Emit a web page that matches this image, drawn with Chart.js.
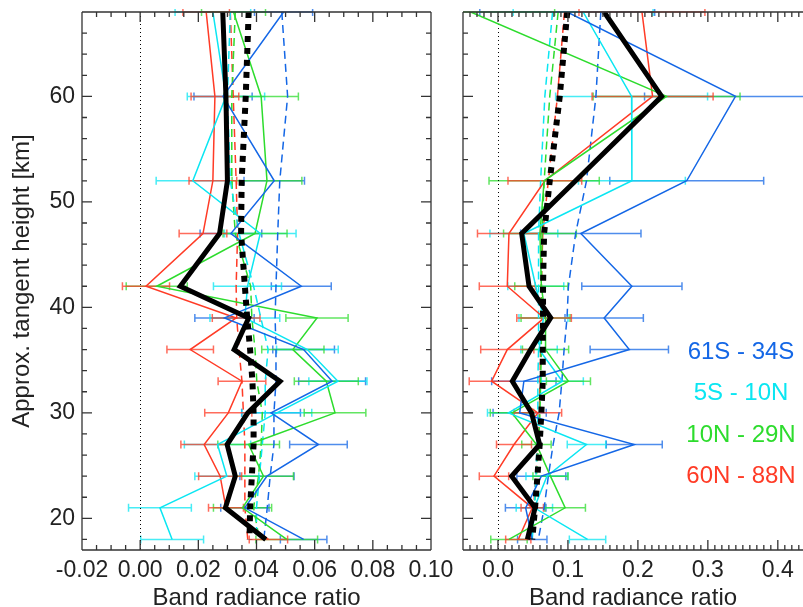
<!DOCTYPE html>
<html>
<head>
<meta charset="utf-8">
<script src="https://cdn.jsdelivr.net/npm/chart.js@4.4.0/dist/chart.umd.min.js"></script>
<style>
  html, body { margin: 0; padding: 0; background: #fff; overflow: hidden; }
  #wrap { position: relative; width: 803px; height: 607px; }
  #leftChart { position: absolute; left: 0; top: 0; }
  #rightChart { position: absolute; left: 447px; top: 0; }
</style>
</head>
<body>
<div id="wrap">
  <canvas id="leftChart" width="460" height="607"></canvas>
  <canvas id="rightChart" width="356" height="607"></canvas>
</div>
<script>
// tangent heights of the profile points (km)
const heights = [68, 60, 52, 47, 42, 39, 36, 33, 30, 27, 24, 21, 18];

// left panel
const leftBlue = [0.0493, 0.0285, 0.0461, 0.0312, 0.0554, 0.029, 0.0562, 0.066, 0.045, 0.0613, 0.0436, 0.036, 0.0562];
const leftBlueErr = [0.010, 0.010, 0.0104, 0.0106, 0.0103, 0.0102, 0.0106, 0.0115, 0.0101, 0.0099, 0.0093, 0.0083, 0.008];
const leftCyan = [0.025, 0.0295, 0.0181, 0.0413, 0.0369, 0.036, 0.0575, 0.068, 0.047, 0.0266, 0.0298, 0.0068, 0.011];
const leftCyanErr = [0.013, 0.0133, 0.0126, 0.0123, 0.0117, 0.012, 0.0106, 0.010, 0.012, 0.0114, 0.011, 0.0108, 0.0108];
const leftGreen = [0.0321, 0.0416, 0.0436, 0.0395, 0.0057, 0.0608, 0.0525, 0.064, 0.067, 0.0373, 0.0424, 0.0352, 0.0504];
const leftGreenErr = [0.011, 0.0128, 0.012, 0.011, 0.0105, 0.0107, 0.0107, 0.011, 0.0106, 0.0106, 0.0103, 0.010, 0.0106];
const leftRed = [0.0227, 0.0257, 0.025, 0.0216, 0.002, 0.033, 0.0172, 0.035, 0.0303, 0.022, 0.0275, 0.0295, 0.0441];
const leftRedErr = [0.008, 0.0082, 0.0082, 0.0082, 0.0081, 0.0082, 0.008, 0.0082, 0.0081, 0.008, 0.0074, 0.006, 0.0066];
const leftMean = [0.0284, 0.0295, 0.030, 0.0273, 0.0138, 0.0373, 0.0323, 0.0481, 0.037, 0.0299, 0.0327, 0.0293, 0.0432];
const leftBlueDash = [0.0487, 0.0507, 0.048, 0.0473, 0.0467, 0.0464, 0.0467, 0.0467, 0.046, 0.046, 0.0447, 0.0437, 0.0425];
const leftCyanDash = [0.031, 0.030, 0.031, 0.034, 0.039, 0.0415, 0.044, 0.043, 0.043, 0.042, 0.041, 0.040, 0.040];
const leftGreenDash = [0.0327, 0.0315, 0.0315, 0.0327, 0.038, 0.0384, 0.0395, 0.0401, 0.042, 0.0416, 0.0407, 0.039, 0.041];
const leftRedDash = [0.031, 0.032, 0.033, 0.0335, 0.033, 0.0332, 0.034, 0.035, 0.0355, 0.036, 0.036, 0.036, 0.037];
const leftMeanDash = [0.0373, 0.0363, 0.0349, 0.0347, 0.036, 0.0368, 0.0378, 0.0386, 0.039, 0.039, 0.0384, 0.0378, 0.0376];

// right panel
const rightBlue = [0.099, 0.3395, 0.2698, 0.1184, 0.1914, 0.1518, 0.1877, 0.037, 0.031, 0.1948, 0.062, 0.0396, 0.049];
const rightBlueErr = [0.125, 0.130, 0.110, 0.086, 0.0716, 0.056, 0.056, 0.046, 0.038, 0.040, 0.035, 0.029, 0.021];
const rightCyan = [0.1217, 0.191, 0.1914, 0.037, 0.054, 0.065, 0.0587, 0.092, 0.015, 0.1265, 0.07, 0.052, 0.128];
const rightCyanErr = [0.10, 0.1086, 0.0764, 0.0485, 0.040, 0.035, 0.026, 0.030, 0.030, 0.0275, 0.030, 0.026, 0.026];
const rightGreen = [-0.039, 0.241, 0.066, 0.060, 0.062, 0.068, 0.068, 0.1007, 0.020, 0.055, 0.075, 0.096, 0.0157];
const rightGreenErr = [0.12, 0.105, 0.0788, 0.052, 0.038, 0.035, 0.033, 0.0315, 0.031, 0.021, 0.025, 0.029, 0.026];
const rightRed = [0.2058, 0.221, 0.067, 0.0157, 0.0133, 0.0659, 0.0133, -0.0091, 0.057, 0.0229, -0.0057, 0.049, 0.029];
const rightRedErr = [0.09, 0.0865, 0.0527, 0.045, 0.040, 0.039, 0.038, 0.032, 0.034, 0.025, 0.021, 0.016, 0.018];
const rightMean = [0.1518, 0.234, 0.111, 0.0339, 0.0444, 0.0754, 0.0467, 0.0205, 0.048, 0.0596, 0.0195, 0.053, 0.042];
const rightBlueDash = [0.147, 0.140, 0.1265, 0.111, 0.1007, 0.0987, 0.0945, 0.0913, 0.0874, 0.0788, 0.072, 0.066, 0.0577];
const rightCyanDash = [0.078, 0.067, 0.061, 0.058, 0.058, 0.058, 0.058, 0.057, 0.057, 0.056, 0.054, 0.052, 0.049];
const rightGreenDash = [0.086, 0.074, 0.066, 0.063, 0.062, 0.062, 0.062, 0.061, 0.060, 0.058, 0.055, 0.052, 0.048];
const rightRedDash = [0.095, 0.085, 0.072, 0.064, 0.062, 0.062, 0.061, 0.060, 0.059, 0.057, 0.054, 0.051, 0.047];
const rightMeanDash = [0.099, 0.0883, 0.074, 0.0659, 0.0644, 0.0644, 0.064, 0.064, 0.062, 0.0596, 0.0564, 0.053, 0.049];

// axes
const leftXTicks = [-0.02, 0, 0.02, 0.04, 0.06, 0.08, 0.10];
const rightXTicks = [0, 0.1, 0.2, 0.3, 0.4];
const yTicks = [20, 30, 40, 50, 60];
const legendLabels = ["61S - 34S", "5S - 10N", "10N - 29N", "60N - 88N"];

const BLUE = "#1467e6";
const CYAN = "#0ae6f2";
const GREEN = "#2ddc2d";
const RED = "#ff3b26";
const FONT = "'Liberation Sans', Arial, sans-serif";
const TEXT = "#222";

Chart.defaults.font.family = FONT;
Chart.defaults.animation = false;

function profile(values, color, width, dash, order, errors) {
  return {
    data: values.map((v, i) => ({ x: v, y: heights[i] })),
    borderColor: color,
    borderWidth: width,
    borderDash: dash,
    showLine: true,
    pointRadius: 0,
    tension: 0,
    order: order,
    errors: errors || null,
  };
}

function minorValues(min, max, step) {
  const out = [];
  for (let i = Math.ceil(min / step - 1e-6); i * step <= max + 1e-9; i++) {
    out.push(i * step);
  }
  return out;
}

// horizontal error bars with caps
const errorBars = {
  id: "errorBars",
  beforeDatasetsDraw(chart) {
    const { ctx, chartArea: a, scales } = chart;
    ctx.save();
    ctx.beginPath();
    ctx.rect(a.left, a.top - 3, a.right - a.left, a.bottom - a.top + 6);
    ctx.clip();
    chart.data.datasets.forEach((ds) => {
      if (!ds.errors) return;
      ctx.strokeStyle = ds.borderColor;
      ctx.globalAlpha = 0.75;
      ctx.lineWidth = 1.5;
      ds.data.forEach((p, i) => {
        const e = ds.errors[i];
        const x0 = scales.x.getPixelForValue(p.x - e);
        const x1 = scales.x.getPixelForValue(p.x + e);
        const py = scales.y.getPixelForValue(p.y);
        ctx.beginPath();
        ctx.moveTo(x0, py);
        ctx.lineTo(x1, py);
        ctx.moveTo(x0, py - 4);
        ctx.lineTo(x0, py + 4);
        ctx.moveTo(x1, py - 4);
        ctx.lineTo(x1, py + 4);
        ctx.stroke();
      });
    });
    ctx.restore();
  },
};

// box, inward ticks and the dotted zero line
const axisFrame = {
  id: "axisFrame",
  beforeDatasetsDraw(chart) {
    const { ctx, chartArea: a, scales } = chart;
    const px = Math.round(scales.x.getPixelForValue(0)) + 0.5;
    ctx.save();
    ctx.strokeStyle = "#000";
    ctx.lineWidth = 1;
    ctx.setLineDash([1, 3]);
    ctx.beginPath();
    ctx.moveTo(px, a.top);
    ctx.lineTo(px, a.bottom);
    ctx.stroke();
    ctx.restore();
  },
  afterDraw(chart, args, opts) {
    const { ctx, chartArea: a, scales } = chart;
    const x = scales.x;
    const y = scales.y;
    ctx.save();
    ctx.strokeStyle = "#333";
    ctx.lineWidth = 1.3;
    ctx.beginPath();
    ctx.moveTo(a.left, a.top);
    ctx.lineTo(a.right, a.top);
    ctx.moveTo(a.left, a.bottom);
    ctx.lineTo(a.right, a.bottom);
    ctx.moveTo(a.left, a.top);
    ctx.lineTo(a.left, a.bottom);
    if (opts.rightBorder) {
      ctx.moveTo(a.right, a.top);
      ctx.lineTo(a.right, a.bottom);
    }
    const xTick = (v, len) => {
      const p = x.getPixelForValue(v);
      ctx.moveTo(p, a.bottom);
      ctx.lineTo(p, a.bottom - len);
      ctx.moveTo(p, a.top);
      ctx.lineTo(p, a.top + len);
    };
    const yTick = (v, len) => {
      const p = y.getPixelForValue(v);
      ctx.moveTo(a.left, p);
      ctx.lineTo(a.left + len, p);
      if (opts.rightBorder) {
        ctx.moveTo(a.right, p);
        ctx.lineTo(a.right - len, p);
      }
    };
    minorValues(x.min, x.max, opts.xMinor).forEach((v) => xTick(v, 5));
    opts.xMajor.forEach((v) => xTick(v, 10));
    minorValues(y.min, y.max, 2).forEach((v) => yTick(v, 5));
    yTicks.forEach((v) => yTick(v, 10));
    ctx.stroke();

    if (opts.legend) {
      ctx.font = "24px " + FONT;
      ctx.textAlign = "center";
      ctx.textBaseline = "middle";
      const colors = [BLUE, CYAN, GREEN, RED];
      const rows = [352, 393, 435, 476];
      legendLabels.forEach((t, i) => {
        ctx.fillStyle = colors[i];
        ctx.fillText(t, 294, rows[i]);
      });
    }
    ctx.restore();
  },
};

function buildDatasets(set) {
  return [
    profile(set.mean, "#000", 5, [], 0),
    profile(set.meanDash, "#000", 6, [6, 6], 1),
    profile(set.blue, BLUE, 1.5, [], 2, set.blueErr),
    profile(set.cyan, CYAN, 1.5, [], 2, set.cyanErr),
    profile(set.green, GREEN, 1.5, [], 2, set.greenErr),
    profile(set.red, RED, 1.5, [], 2, set.redErr),
    profile(set.blueDash, BLUE, 1.5, [8, 5], 3),
    profile(set.cyanDash, CYAN, 1.5, [8, 5], 3),
    profile(set.greenDash, GREEN, 1.5, [8, 5], 3),
    profile(set.redDash, RED, 1.5, [8, 5], 3),
  ];
}

function makeChart(canvasId, set, cfg) {
  const ctx = document.getElementById(canvasId).getContext("2d");
  return new Chart(ctx, {
    type: "scatter",
    data: { datasets: buildDatasets(set) },
    options: {
      responsive: false,
      events: [],
      layout: { padding: { top: 12, right: cfg.padRight, left: 0, bottom: 0 } },
      plugins: {
        legend: { display: false },
        tooltip: { enabled: false },
        axisFrame: {
          xMajor: cfg.xTicks,
          xMinor: cfg.xMinor,
          rightBorder: cfg.rightBorder,
          legend: cfg.legend,
        },
      },
      scales: {
        x: {
          type: "linear",
          min: cfg.xMin,
          max: cfg.xMax,
          afterBuildTicks: (s) => {
            s.ticks = cfg.xTicks.map((v) => ({ value: v }));
          },
          afterFit: (s) => {
            s.height = 57;
            s.paddingLeft = 0;
            s.paddingRight = 0;
          },
          grid: { display: false, drawTicks: false },
          border: { display: false },
          ticks: {
            autoSkip: false,
            maxRotation: 0,
            padding: 7,
            color: TEXT,
            font: { size: 23 },
            callback: (v) => Number(v).toFixed(cfg.digits),
          },
          title: {
            display: true,
            text: "Band radiance ratio",
            color: TEXT,
            font: { size: 24, lineHeight: 0.75 },
            padding: 0,
          },
        },
        y: {
          type: "linear",
          min: 17,
          max: 68,
          afterBuildTicks: (s) => {
            s.ticks = yTicks.map((v) => ({ value: v }));
          },
          afterFit: (s) => {
            s.width = cfg.yWidth;
            s.paddingTop = 0;
            s.paddingBottom = 0;
          },
          grid: { display: false, drawTicks: false },
          border: { display: false },
          ticks: {
            display: cfg.yLabels,
            padding: 7,
            color: TEXT,
            font: { size: 23 },
          },
          title: {
            display: cfg.yLabels,
            text: "Approx. tangent height [km]",
            color: TEXT,
            font: { size: 24, lineHeight: 0.75 },
            padding: { top: 13, bottom: 0 },
          },
        },
      },
    },
    plugins: [errorBars, axisFrame],
  });
}

makeChart(
  "leftChart",
  {
    mean: leftMean, meanDash: leftMeanDash,
    blue: leftBlue, blueErr: leftBlueErr,
    cyan: leftCyan, cyanErr: leftCyanErr,
    green: leftGreen, greenErr: leftGreenErr,
    red: leftRed, redErr: leftRedErr,
    blueDash: leftBlueDash, cyanDash: leftCyanDash,
    greenDash: leftGreenDash, redDash: leftRedDash,
  },
  {
    xMin: -0.02, xMax: 0.10, xTicks: leftXTicks, xMinor: 0.005, digits: 2,
    padRight: 29, yWidth: 82, yLabels: true, rightBorder: true, legend: false,
  }
);

makeChart(
  "rightChart",
  {
    mean: rightMean, meanDash: rightMeanDash,
    blue: rightBlue, blueErr: rightBlueErr,
    cyan: rightCyan, cyanErr: rightCyanErr,
    green: rightGreen, greenErr: rightGreenErr,
    red: rightRed, redErr: rightRedErr,
    blueDash: rightBlueDash, cyanDash: rightCyanDash,
    greenDash: rightGreenDash, redDash: rightRedDash,
  },
  {
    xMin: -0.05, xMax: 0.436, xTicks: rightXTicks, xMinor: 0.01, digits: 1,
    padRight: 0, yWidth: 16, yLabels: false, rightBorder: false, legend: true,
  }
);
</script>
</body>
</html>
